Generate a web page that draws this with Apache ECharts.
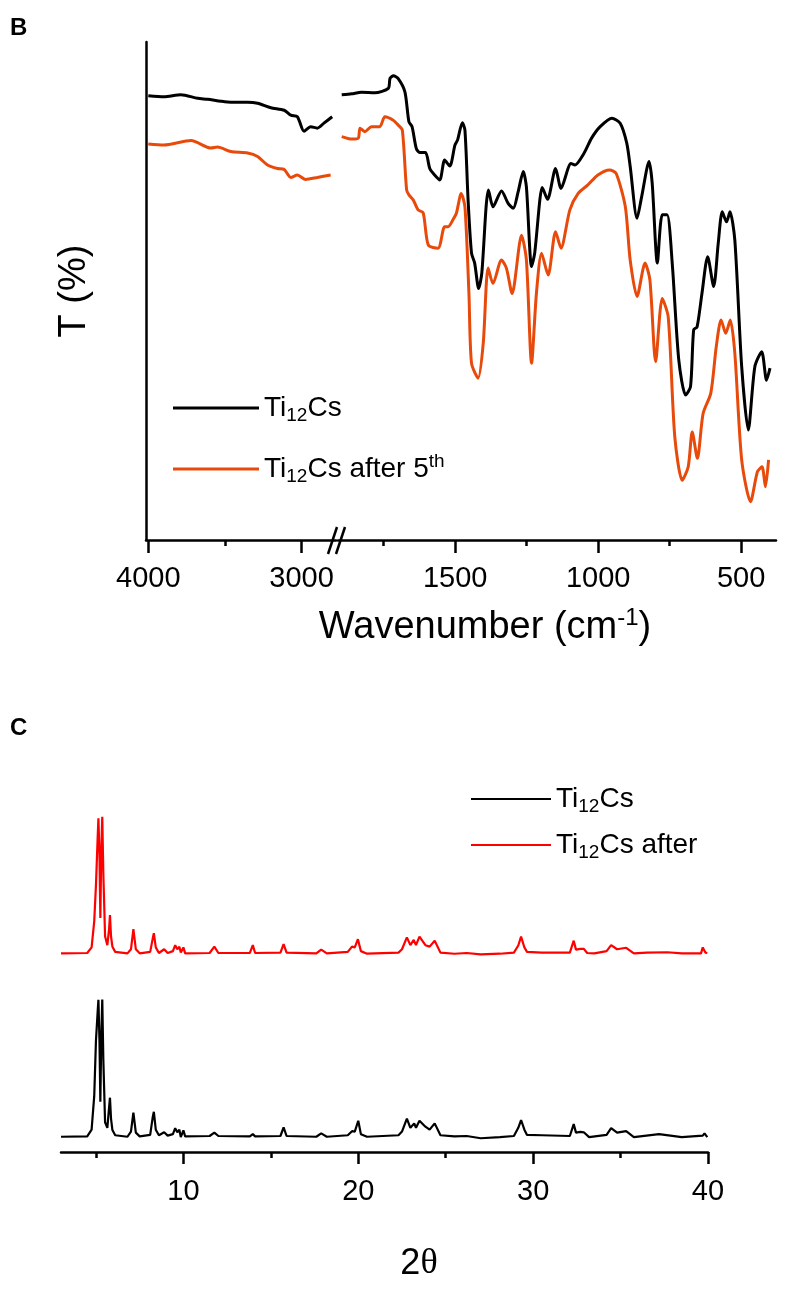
<!DOCTYPE html>
<html>
<head>
<meta charset="utf-8">
<script src="https://cdn.jsdelivr.net/npm/echarts@6/dist/echarts.min.js"></script>
<style>
  html, body { margin: 0; background: #fff; }
  #main { width: 785px; height: 1295px; }
</style>
</head>
<body>
<div id="main"></div>
<script>
// ---- FTIR (panel B), [wavenumber, T] ----
const irBlackLeft = [
  [4000, 89.2], [3898, 89.0], [3787, 89.4], [3678, 88.7], [3613, 88.5], [3526, 88.1],
  [3461, 87.9], [3352, 87.9], [3287, 87.7], [3200, 86.8], [3113, 86.3], [3070, 85.3],
  [3027, 85.0], [2984, 82.1], [2940, 83.0], [2897, 82.7], [2854, 83.7], [2800, 85.0]
];
const irOrangeLeft = [
  [4000, 79.5], [3898, 79.3], [3721, 80.2], [3591, 78.7], [3548, 78.9], [3461, 78.0],
  [3352, 77.7], [3287, 77.0], [3222, 75.3], [3157, 74.6], [3113, 74.4], [3070, 72.8],
  [3027, 73.3], [2973, 72.4], [2897, 72.8], [2810, 73.3]
];
const irBlackRight = [
  [1897, 89.4], [1862, 89.6], [1828, 89.9], [1781, 89.8], [1734, 90.7], [1728, 92.7],
  [1716, 93.2], [1700, 92.7], [1676, 90.0], [1662, 84.0], [1651, 83.0], [1636, 78.6],
  [1624, 77.8], [1604, 77.8], [1589, 74.6], [1572, 73.3], [1554, 72.3], [1537, 76.3],
  [1519, 75.1], [1501, 79.3], [1492, 80.3], [1475, 83.8], [1466, 82.3], [1455, 68.3],
  [1443, 57.6], [1432, 55.6], [1418, 50.5], [1407, 53.6], [1392, 66.9], [1384, 70.3],
  [1368, 66.9], [1338, 70.1], [1315, 67.6], [1297, 66.6], [1280, 69.9], [1262, 74.0],
  [1251, 70.9], [1233, 54.9], [1222, 57.6], [1204, 68.3], [1196, 70.8], [1177, 68.4],
  [1149, 74.6], [1130, 70.6], [1095, 75.6], [1081, 75.3], [1050, 77.6], [1023, 80.7],
  [993, 83.0], [952, 84.7], [923, 83.7], [900, 79.7], [888, 75.0], [864, 64.6],
  [848, 68.9], [822, 76.0], [811, 71.6], [793, 55.6], [776, 65.3], [759, 65.3],
  [741, 55.6], [718, 36.1], [694, 29.1], [677, 30.8], [666, 42.2], [654, 42.8],
  [637, 49.5], [617, 56.9], [596, 50.9], [580, 59.6], [566, 65.9], [551, 63.9],
  [539, 65.9], [522, 60.2], [498, 34.8], [475, 22.1], [452, 34.8], [428, 37.8],
  [411, 32.1], [399, 34.5]
];
const irOrangeRight = [
  [1897, 81.0], [1862, 80.5], [1839, 80.7], [1833, 82.7], [1816, 82.0], [1793, 83.0],
  [1764, 83.0], [1746, 85.0], [1717, 84.3], [1699, 83.3], [1685, 82.3], [1670, 70.3],
  [1662, 69.3], [1647, 68.3], [1630, 66.3], [1612, 65.7], [1594, 59.2], [1560, 58.6],
  [1537, 62.9], [1525, 62.9], [1508, 64.3], [1496, 65.6], [1479, 69.6], [1466, 66.9],
  [1452, 49.5], [1443, 35.5], [1420, 32.5], [1402, 39.5], [1385, 54.6], [1368, 51.5],
  [1338, 56.2], [1321, 54.6], [1301, 49.5], [1268, 61.2], [1251, 56.2], [1233, 35.5],
  [1216, 49.5], [1198, 57.6], [1175, 53.2], [1149, 61.9], [1130, 58.6], [1099, 66.3],
  [1070, 69.6], [1036, 71.3], [1001, 73.3], [960, 74.3], [937, 73.6], [905, 66.9],
  [888, 56.2], [864, 48.9], [836, 55.6], [819, 52.2], [799, 35.8], [776, 48.5],
  [755, 44.8], [732, 20.7], [706, 12.0], [685, 14.7], [671, 21.7], [653, 16.4],
  [633, 25.4], [606, 29.5], [587, 38.8], [570, 44.2], [554, 41.5], [538, 44.2],
  [522, 37.5], [498, 16.1], [467, 7.7], [443, 13.7], [427, 14.7], [415, 10.7], [404, 16.1]
];
const irTicksLeft = [3000, 4000];
const irMinorLeft = [3500];
const irTicksRight = [500, 1000, 1500];
const irMinorRight = [750, 1250, 1750];

// ---- XRD (panel C), [2theta, intensity] ----
const xrdBlack = [
  [3.0, 4.1], [4.5, 4.2], [4.75, 6], [4.9, 15], [5.0, 30], [5.1, 38], [5.14, 40.9],
  [5.2, 30], [5.25, 13.5], [5.3, 30], [5.36, 41.0], [5.42, 25], [5.52, 8], [5.65, 6.5],
  [5.75, 12], [5.8, 14.6], [5.86, 9], [5.94, 5.9], [6.1, 4.5], [6.8, 4.1], [7.0, 5.5],
  [7.14, 10.6], [7.28, 5.2], [7.5, 4.2], [8.1, 4.6], [8.25, 9.5], [8.31, 10.8], [8.42, 6],
  [8.6, 4.5], [8.9, 5.3], [9.1, 4.4], [9.4, 4.8], [9.53, 6.4], [9.65, 5.3], [9.77, 6.0],
  [9.85, 4.0], [9.95, 4.5], [10.0, 5.8], [10.1, 4.2], [11.5, 4.3], [11.77, 5.2], [12.0, 4.3],
  [13.8, 4.2], [13.97, 4.8], [14.1, 4.2], [15.55, 4.3], [15.73, 6.6], [15.9, 4.3],
  [17.6, 4.1], [17.88, 5.0], [18.2, 4.1], [19.4, 4.5], [19.64, 5.6], [19.8, 5.5],
  [20.0, 8.4], [20.15, 4.8], [20.5, 4.1], [22.3, 4.5], [22.5, 5.5], [22.78, 9.0],
  [22.98, 6.5], [23.2, 7.7], [23.3, 6.5], [23.5, 8.4], [23.84, 6.8], [24.08, 6.0],
  [24.37, 7.7], [24.7, 4.5], [25.5, 4.2], [26.2, 4.3], [27.0, 3.7], [28.1, 4.0],
  [28.9, 4.3], [29.15, 6.5], [29.31, 8.6], [29.5, 6], [29.65, 4.6], [30.5, 4.5],
  [32.1, 4.3], [32.32, 7.5], [32.45, 5.2], [32.7, 5.4], [32.9, 5.3], [33.2, 4.0],
  [34.2, 4.6], [34.46, 6.4], [34.8, 5.2], [35.32, 5.6], [35.76, 4.0], [37.2, 4.8],
  [38.5, 4.0], [39.7, 4.4], [39.8, 5.0], [39.96, 4.0]
];
const xrdRed = [
  [3.0, 53.4], [4.5, 53.5], [4.75, 55], [4.9, 62], [5.0, 71.8], [5.1, 85], [5.14, 89.7],
  [5.2, 80], [5.25, 62.9], [5.3, 80], [5.36, 90.1], [5.42, 75], [5.52, 58.0], [5.65, 55.6],
  [5.75, 60], [5.8, 63.7], [5.86, 58], [5.94, 55.2], [6.1, 53.8], [6.8, 53.4], [7.0, 54.5],
  [7.14, 59.9], [7.28, 54.5], [7.5, 53.4], [8.1, 53.8], [8.25, 57.5], [8.31, 58.8],
  [8.42, 55], [8.6, 53.5], [8.9, 54.5], [9.1, 53.5], [9.4, 54], [9.53, 55.6], [9.65, 54.5],
  [9.77, 55.2], [9.85, 53.6], [9.95, 53.8], [10.0, 55], [10.1, 53.4], [11.5, 53.5],
  [11.77, 55.2], [12.0, 53.5], [13.8, 53.5], [13.97, 55.6], [14.1, 53.5], [15.55, 53.6],
  [15.73, 55.9], [15.9, 53.6], [17.6, 53.4], [17.88, 54.4], [18.2, 53.4], [19.4, 53.8],
  [19.64, 55.2], [19.8, 55], [19.98, 57.2], [20.15, 54], [20.5, 53.3], [22.3, 53.6],
  [22.5, 54.5], [22.78, 57.7], [22.98, 55.6], [23.17, 57.0], [23.3, 55.6], [23.5, 57.9],
  [23.84, 55.6], [24.08, 55.2], [24.37, 56.8], [24.7, 53.6], [25.5, 53.3], [26.2, 53.5],
  [27.0, 53.1], [28.1, 53.3], [28.9, 53.6], [29.15, 55.5], [29.31, 57.9], [29.5, 55],
  [29.65, 53.8], [30.5, 53.6], [32.1, 53.6], [32.32, 56.8], [32.45, 54.4], [32.7, 54.6],
  [32.9, 54.6], [33.09, 53.5], [33.5, 53.4], [34.2, 54.0], [34.46, 55.6], [34.8, 54.5],
  [35.32, 54.9], [35.76, 53.4], [36.5, 53.6], [37.67, 53.7], [38.5, 53.4], [39.6, 53.4],
  [39.7, 55], [39.85, 53.6], [39.96, 53.5]
];
const xrdTicks = [10, 20, 30, 40];
const xrdMinor = [5, 15, 25, 35];

const FONT = 'Arial, "Liberation Sans", sans-serif';
const ORANGE = '#e84a0c';

const rich = {
  a: { fontSize: 28, fontFamily: FONT, color: '#000', lineHeight: 32 },
  s: { fontSize: 19, fontFamily: FONT, color: '#000', lineHeight: 19, padding: [15, 0, 0, 0] },
  p: { fontSize: 19, fontFamily: FONT, color: '#000', lineHeight: 19, padding: [0, 0, 14, 0] }
};
const labelOf = {
  'Ti12Cs': '{a|Ti}{s|12}{a|Cs}',
  'Ti12Cs after 5th': '{a|Ti}{s|12}{a|Cs after 5}{p|th}',
  'Ti12Cs after': '{a|Ti}{s|12}{a|Cs after}'
};

const chart = echarts.init(document.getElementById('main'));

function ticksAxis(grid, min, max, inverse, values, len, labels, margin) {
  return {
    type: 'value', gridIndex: grid, position: 'bottom', min: min, max: max, inverse: inverse,
    axisLine: { show: labels, onZero: false, lineStyle: { color: '#000', width: 2.5 } },
    axisTick: { show: true, customValues: values, length: len, lineStyle: { color: '#000', width: 2.5 } },
    axisLabel: {
      show: labels, customValues: values, margin: margin, color: '#000', fontSize: 29, fontFamily: FONT,
      formatter: v => String(v)
    },
    splitLine: { show: false }
  };
}

chart.setOption({
  animation: false,
  backgroundColor: '#fff',
  grid: [
    { left: 146, top: 42, width: 190, height: 498 },
    { left: 338, top: 42, width: 438, height: 498 },
    { left: 61, top: 780, width: 647, height: 372 }
  ],
  xAxis: [
    ticksAxis(0, 2775, 4015, true, irTicksLeft, 13, true, 24),
    ticksAxis(0, 2775, 4015, true, irMinorLeft, 6, false, 24),
    ticksAxis(1, 378, 1910, true, irTicksRight, 13, true, 24),
    ticksAxis(1, 378, 1910, true, irMinorRight, 6, false, 24),
    ticksAxis(2, 3, 40, false, xrdTicks, 12, true, 25),
    ticksAxis(2, 3, 40, false, xrdMinor, 6, false, 25)
  ],
  yAxis: [
    {
      type: 'value', gridIndex: 0, min: 0, max: 100,
      axisLine: { show: true, lineStyle: { color: '#000', width: 2.5 } },
      axisTick: { show: false }, axisLabel: { show: false }, splitLine: { show: false },
      name: 'T (%)', nameLocation: 'middle', nameGap: 52,
      nameTextStyle: { color: '#000', fontSize: 38, fontFamily: FONT }
    },
    { type: 'value', gridIndex: 1, min: 0, max: 100, show: false },
    { type: 'value', gridIndex: 2, min: 0, max: 100, show: false }
  ],
  legend: [
    {
      data: ['Ti12Cs', 'Ti12Cs after 5th'], orient: 'vertical', left: 168, top: 386,
      itemWidth: 86, itemHeight: 3, itemGap: 27, icon: 'rect',
      formatter: n => labelOf[n], textStyle: { rich: rich }
    },
    {
      data: ['Ti12Cs', 'Ti12Cs after'], orient: 'vertical', left: 466, top: 777,
      itemWidth: 80, itemHeight: 2, itemGap: 12, icon: 'rect',
      formatter: n => labelOf[n], textStyle: { rich: rich }
    }
  ],
  series: [
    { name: 'Ti12Cs', type: 'line', xAxisIndex: 0, yAxisIndex: 0, data: irBlackLeft,
      showSymbol: false, smooth: 0.25, lineStyle: { color: '#000', width: 3 }, itemStyle: { color: '#000' } },
    { name: 'Ti12Cs after 5th', type: 'line', xAxisIndex: 0, yAxisIndex: 0, data: irOrangeLeft,
      showSymbol: false, smooth: 0.25, lineStyle: { color: ORANGE, width: 3 }, itemStyle: { color: ORANGE } },
    { name: 'Ti12Cs', type: 'line', xAxisIndex: 2, yAxisIndex: 1, data: irBlackRight,
      showSymbol: false, smooth: 0.25, lineStyle: { color: '#000', width: 3 }, itemStyle: { color: '#000' } },
    { name: 'Ti12Cs after 5th', type: 'line', xAxisIndex: 2, yAxisIndex: 1, data: irOrangeRight,
      showSymbol: false, smooth: 0.25, lineStyle: { color: ORANGE, width: 3 }, itemStyle: { color: ORANGE } },
    { name: 'Ti12Cs', type: 'line', xAxisIndex: 4, yAxisIndex: 2, data: xrdBlack,
      showSymbol: false, lineStyle: { color: '#000', width: 2.2 }, itemStyle: { color: '#000' } },
    { name: 'Ti12Cs after', type: 'line', xAxisIndex: 4, yAxisIndex: 2, data: xrdRed,
      showSymbol: false, lineStyle: { color: '#ff0000', width: 2.2 }, itemStyle: { color: '#ff0000' } }
  ],
  graphic: [
    { type: 'text', x: 10, y: 16, style: { text: 'B', font: 'bold 24px Arial, "Liberation Sans", sans-serif', fill: '#000' } },
    { type: 'text', x: 10, y: 716, style: { text: 'C', font: 'bold 24px Arial, "Liberation Sans", sans-serif', fill: '#000' } },
    { type: 'line', shape: { x1: 328, y1: 554, x2: 337, y2: 527 }, style: { stroke: '#000', lineWidth: 2.5 } },
    { type: 'line', shape: { x1: 336, y1: 554, x2: 345, y2: 527 }, style: { stroke: '#000', lineWidth: 2.5 } },
    {
      type: 'text', x: 485, y: 628,
      style: {
        text: '{t|Wavenumber (cm}{u|-1}{t|)}', align: 'center', verticalAlign: 'middle',
        rich: {
          t: { fontSize: 38, fontFamily: FONT, color: '#000', lineHeight: 44 },
          u: { fontSize: 24, fontFamily: FONT, color: '#000', lineHeight: 24, padding: [0, 0, 20, 0] }
        }
      }
    },
    {
      type: 'text', x: 419, y: 1264,
      style: {
        text: '{t|2}{g|θ}', align: 'center', verticalAlign: 'middle',
        rich: {
          t: { fontSize: 36, fontFamily: FONT, color: '#000' },
          g: { fontSize: 36, fontFamily: '"Liberation Serif", "DejaVu Serif", serif', color: '#000' }
        }
      }
    }
  ]
});
</script>
</body>
</html>
